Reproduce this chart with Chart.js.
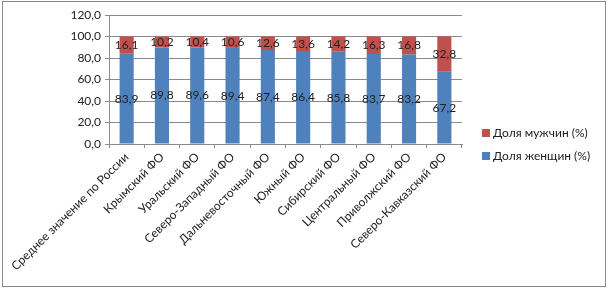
<!DOCTYPE html>
<html lang="ru">
<head>
    <meta charset="UTF-8">
    <title>Доля женщин и мужчин по ФО</title>
    <style>
        body {
            margin: 0;
            background: #fff;
        }
    </style>
</head>
<body>
    <canvas id="chart" width="608" height="290"></canvas>

    <script src="https://cdn.jsdelivr.net/npm/chart.js"></script>
    <script>
        const categories = [
            'Среднее значение по России',
            'Крымский ФО',
            'Уральский ФО',
            'Северо-Западный ФО',
            'Дальневосточный ФО',
            'Южный ФО',
            'Сибирский ФО',
            'Центральный ФО',
            'Приволжский ФО',
            'Северо-Кавказский ФО'
        ];
        const women = [83.9, 89.8, 89.6, 89.4, 87.4, 86.4, 85.8, 83.7, 83.2, 67.2];
        const men = [16.1, 10.2, 10.4, 10.6, 12.6, 13.6, 14.2, 16.3, 16.8, 32.8];
        const yTicks = [0, 20, 40, 60, 80, 100, 120];

        const FONT = 'Lato, "Open Sans", sans-serif';

        function fmt(v) {
            return v.toFixed(1).replace('.', ',');
        }

        // frame around the whole picture
        const framePlugin = {
            id: 'frame',
            beforeDraw(chart) {
                const ctx = chart.ctx;
                ctx.save();
                ctx.strokeStyle = '#8a8a8a';
                ctx.lineWidth = 1;
                ctx.strokeRect(2.5, 1.5, 603, 285);
                ctx.restore();
            }
        };

        // values written in the middle of each segment
        const valueLabels = {
            id: 'valueLabels',
            afterDatasetsDraw(chart) {
                const ctx = chart.ctx;
                ctx.save();
                ctx.font = '12px ' + FONT;
                ctx.fillStyle = '#222';
                ctx.textAlign = 'center';
                ctx.textBaseline = 'middle';
                chart.data.datasets.forEach((ds, i) => {
                    chart.getDatasetMeta(i).data.forEach((bar, j) => {
                        ctx.fillText(fmt(ds.data[j]), bar.x, (bar.y + bar.base) / 2);
                    });
                });
                ctx.restore();
            }
        };

        // legend on the right, men first
        const sideLegend = {
            id: 'sideLegend',
            afterDraw(chart) {
                const ctx = chart.ctx;
                const rows = [1, 0];
                ctx.save();
                ctx.font = '12px ' + FONT;
                ctx.textBaseline = 'middle';
                rows.forEach((idx, r) => {
                    const ds = chart.data.datasets[idx];
                    const y = 133 + r * 23;
                    ctx.fillStyle = ds.backgroundColor;
                    ctx.fillRect(482, y - 4, 8, 8);
                    ctx.fillStyle = '#222';
                    ctx.fillText(ds.label, 493, y);
                });
                ctx.restore();
            }
        };

        new Chart(document.getElementById('chart'), {
            type: 'bar',
            data: {
                labels: categories,
                datasets: [
                    {
                        label: 'Доля женщин (%)',
                        data: women,
                        backgroundColor: '#4f81bd',
                        barPercentage: 0.4,
                        categoryPercentage: 1
                    },
                    {
                        label: 'Доля мужчин (%)',
                        data: men,
                        backgroundColor: '#c0504d',
                        barPercentage: 0.4,
                        categoryPercentage: 1
                    }
                ]
            },
            options: {
                responsive: false,
                animation: false,
                layout: {
                    padding: { left: 0, top: 15, right: 146, bottom: 0 }
                },
                plugins: {
                    legend: { display: false },
                    tooltip: { enabled: false }
                },
                scales: {
                    x: {
                        stacked: true,
                        grid: {
                            offset: true,
                            drawOnChartArea: false,
                            drawTicks: true,
                            tickLength: 4,
                            color: '#8a8a8a'
                        },
                        border: { color: '#8a8a8a' },
                        ticks: {
                            autoSkip: false,
                            minRotation: 45,
                            maxRotation: 45,
                            padding: 2,
                            color: '#222',
                            font: { family: FONT, size: 12 }
                        },
                        afterFit(scale) {
                            scale.height = 146;
                        }
                    },
                    y: {
                        stacked: true,
                        min: yTicks[0],
                        max: yTicks[yTicks.length - 1],
                        afterBuildTicks(scale) {
                            scale.ticks = yTicks.map(v => ({ value: v }));
                        },
                        grid: {
                            color: '#8a8a8a',
                            tickLength: 4
                        },
                        border: { color: '#8a8a8a' },
                        ticks: {
                            padding: 4,
                            color: '#222',
                            font: { family: FONT, size: 12 },
                            callback: v => fmt(v)
                        },
                        afterFit(scale) {
                            scale.width = 109;
                        }
                    }
                }
            },
            plugins: [framePlugin, valueLabels, sideLegend]
        });
    </script>
</body>
</html>
